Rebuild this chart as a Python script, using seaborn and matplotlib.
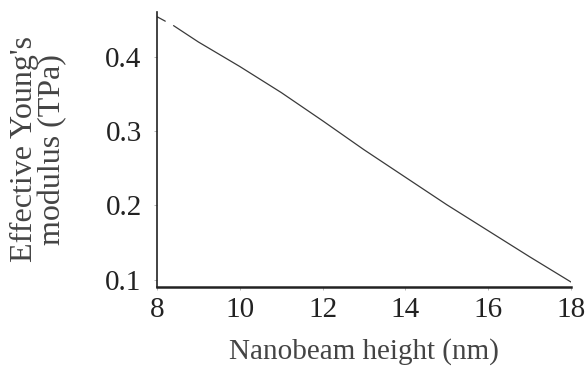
import pandas as pd
import seaborn as sns
import matplotlib.pyplot as plt

# values (gap in the curve between 8.2 and 8.4 nm)
height_nm = [8, 8.2, 8.4, 9, 10, 11, 12, 13, 14, 15, 16, 17, 18]
modulus_tpa = [0.454, 0.448, 0.442, 0.420, 0.387, 0.352, 0.314, 0.275,
               0.238, 0.201, 0.166, 0.131, 0.097]
segment = [0, 0, 1, 1, 1, 1, 1, 1, 1, 1, 1, 1, 1]

df = pd.DataFrame({'height': height_nm, 'modulus': modulus_tpa, 'seg': segment})

sns.set_theme(style="ticks")
plt.rcParams['font.family'] = ['Liberation Serif', 'DejaVu Serif']

fig = plt.figure(figsize=(5.88, 3.81), dpi=100)
ax = fig.add_axes([0.267, 0.247, 0.704, 0.722])

sns.lineplot(data=df, x='height', y='modulus', units='seg', estimator=None,
             color='#3a3a3a', linewidth=0.9, ax=ax)

ax.set_xlim(8, 18)
ax.set_ylim(0.0904, 0.4606)
ax.set_xticks([8, 10, 12, 14, 16, 18])
ax.set_yticks([0.1, 0.2, 0.3, 0.4])
ax.set_xticklabels(['8', '10', '12', '14', '16', '18'])
ax.set_yticklabels(['0.1', '0.2', '0.3', '0.4'])
ax.tick_params(labelsize=21, length=2, width=0.6, colors='#aaaaaa',
               labelcolor='#222222')
ax.tick_params(axis='y', pad=9)
ax.tick_params(axis='x', pad=5)

ax.set_xlabel('Nanobeam height (nm)', fontsize=21, color='#444444', labelpad=11)
ax.set_ylabel("Effective Young's\nmodulus (TPa)", fontsize=23, color='#444444',
              linespacing=0.95)
ax.yaxis.set_label_coords(-0.218, 0.5)

for side in ['top', 'right']:
    ax.spines[side].set_visible(False)
ax.spines['left'].set_linewidth(1.2)
ax.spines['bottom'].set_linewidth(1.8)
ax.spines['left'].set_color('#222222')
ax.spines['bottom'].set_color('#222222')

fig.savefig('out.png', dpi=100)
